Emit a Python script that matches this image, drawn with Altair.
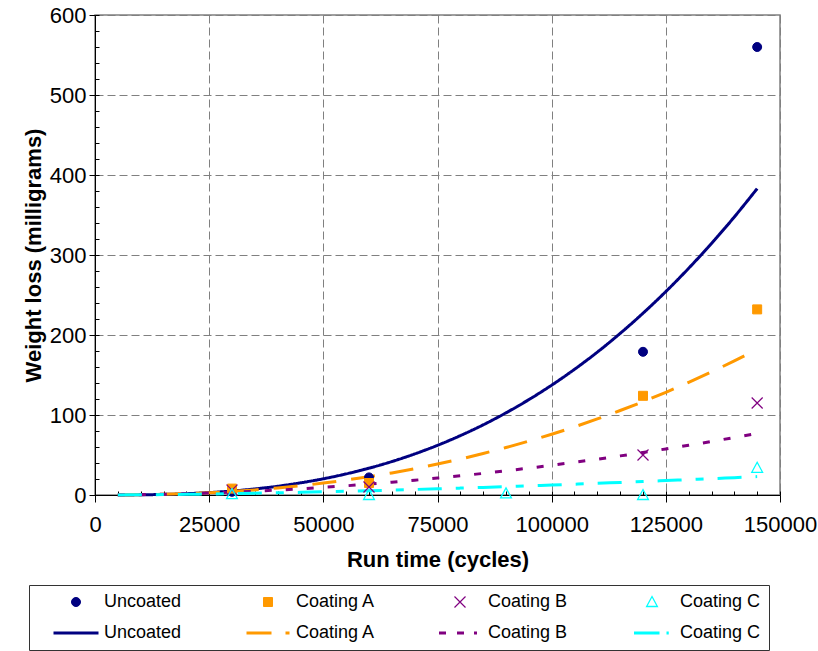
import altair as alt
import pandas as pd

# ---------------- data ----------------
series_names = ["Uncoated", "Coating A", "Coating B", "Coating C"]
series_colors = ["#000080", "#FF9900", "#800080", "#00FFFF"]

# measured values (markers)
measured_x = [30000, 60000, 120000, 145000]
uncoated_meas = [4, 22, 179, 560]
coating_a_meas = [8, 15, 124, 232]
coating_b_meas = [6, 10, 50, 115]
coating_c_x = [30000, 60000, 90000, 120000, 145000]
coating_c_meas = [1, 0, 2, 0, 34]

# trend lines
trend_x = [5000, 10000, 15000, 20000, 25000, 30000, 35000, 40000, 45000, 50000,
           55000, 60000, 65000, 70000, 75000, 80000, 85000, 90000, 95000, 100000,
           105000, 110000, 115000, 120000, 125000, 130000, 135000, 140000, 145000]
uncoated_trend = [0.04, 0.24, 0.73, 1.62, 3.0, 4.95, 7.6, 10.95, 15.2, 20.28,
                  26.4, 33.54, 41.8, 51.33, 62.1, 74.2, 87.7, 102.7, 119.2, 137.3,
                  157.1, 178.6, 202.0, 227.2, 254.3, 283.4, 314.4, 347.6, 383.0]
coating_a_trend = [0.07, 0.34, 0.88, 1.73, 2.9, 4.49, 6.4, 8.82, 11.6, 14.91,
                   18.7, 22.88, 27.6, 32.88, 38.7, 44.99, 51.9, 59.34, 67.4, 76.0,
                   85.2, 95.1, 105.6, 116.7, 128.4, 140.8, 153.9, 167.6, 182.0]
coating_b_trend = [0.10, 0.41, 0.90, 1.59, 2.46, 3.51, 4.75, 6.17, 7.77, 9.55,
                   11.5, 13.66, 16.0, 18.48, 21.2, 24.0, 27.0, 30.24, 33.6, 37.17,
                   40.9, 44.8, 48.9, 53.15, 57.6, 62.17, 66.9, 71.88, 77.0]
coating_c_trend = [0.09, 0.28, 0.54, 0.88, 1.26, 1.71, 2.20, 2.75, 3.34, 3.97,
                   4.65, 5.36, 6.12, 6.92, 7.75, 8.62, 9.53, 10.47, 11.45, 12.46,
                   13.5, 14.58, 15.7, 16.83, 18.0, 19.21, 20.4, 21.71, 23.0]

x_ticks = [0, 25000, 50000, 75000, 100000, 125000, 150000]
y_ticks = [0, 100, 200, 300, 400, 500, 600]
x_minor = list(range(0, 150001, 5000))
y_minor = list(range(0, 601, 20))

# ---------------- tables ----------------
pt_keys = ["pt " + n for n in series_names]
ln_keys = ["ln " + n for n in series_names]
all_keys = pt_keys + ln_keys

meas_sets = [
    (measured_x, uncoated_meas),
    (measured_x, coating_a_meas),
    (measured_x, coating_b_meas),
    (coating_c_x, coating_c_meas),
]
pts_rows = []
for key, (xs, ys) in zip(pt_keys, meas_sets):
    for xv, yv in zip(xs, ys):
        pts_rows.append({"x": xv, "y": yv, "key": key})
pts_df = pd.DataFrame(pts_rows)

trend_sets = [uncoated_trend, coating_a_trend, coating_b_trend, coating_c_trend]
ln_rows = []
for name, ys in zip(series_names, trend_sets):
    for xv, yv in zip(trend_x, ys):
        ln_rows.append({"x": xv, "y": yv, "series": name})
ln_df = pd.DataFrame(ln_rows)

# ---------------- styling ----------------
FONT = "Liberation Sans"
GRID = "#808080"

# symbol paths (unit = 5 px at size 100); the last four are legend line samples
shape_paths = [
    "M-0.9,0A0.9,0.9 0 1,0 0.9,0A0.9,0.9 0 1,0 -0.9,0Z",          # circle
    "M-0.9,-0.9H0.9V0.9H-0.9Z",                                    # square
    "M-1.1,-1.1L1.1,1.1M-1.1,1.1L1.1,-1.1",                        # x
    "M0,-1.1L1.08,0.9L-1.08,0.9Z",                                 # triangle
    "M-4.5,0H4.5",                                                 # solid
    "M-4.3,0H0.7M3.5,0H4.3",                                       # long dash
    "M-4.2,0H-2.8M-0.6,0H0.8M2.8,0H3.4",                           # dots
    "M-3.6,0H1.5M2.9,0H3.35",                                      # dash dot
]
fill_range = [series_colors[0], series_colors[1]] + ["transparent"] * 6
stroke_range = series_colors + series_colors
width_range = [1, 1, 1.2, 1.3, 3, 3, 3, 3]
dash_range = [[1, 0], [24, 15], [7, 14], [24, 14, 8, 14]]

NB = "\u00a0"
legend = alt.Legend(
    title=NB, titleOrient="left", titleFontSize=1, titlePadding=30,
    orient="none", legendX=-66, legendY=570,
    direction="horizontal", columns=4, gridAlign="all",
    symbolSize=100, symbolFillColor="transparent", symbolStrokeColor="black",
    labelExpr="substring(datum.label, 3) + (datum.label == 'pt Coating C' ? '" + NB + NB + "' : '')",
    labelFont=FONT, labelFontSize=18, labelColor="black",
    labelOffset=19, labelLimit=300,
    columnPadding=55, rowPadding=13, padding=8,
    strokeColor="#333333", fillColor="white",
)

x_scale = alt.Scale(domain=[0, 150000], nice=False, zero=False)
y_scale = alt.Scale(domain=[0, 600], nice=False, zero=False)

common_axis = dict(labelFont=FONT, titleFont=FONT, labelColor="black",
                   titleColor="black", domainColor="black", tickColor="black",
                   labelFlush=False)

lines = alt.Chart(ln_df).mark_line(strokeWidth=3, interpolate="monotone").encode(
    x=alt.X("x:Q", scale=x_scale, axis=alt.Axis(
        orient="bottom", values=x_ticks, format="d", title="Run time (cycles)",
        grid=True, gridColor=GRID, gridDash=[8, 4], gridWidth=1,
        tickSize=7, labelFontSize=22, labelPadding=12, titleFontSize=22,
        titleFontWeight="bold", titlePadding=14, **common_axis)),
    y=alt.Y("y:Q", scale=y_scale, axis=alt.Axis(
        orient="left", values=y_ticks, title="Weight loss (milligrams)",
        grid=True, gridColor=GRID, gridDash=[8, 4], gridWidth=1,
        tickSize=6, labelFontSize=22, labelPadding=3, titleFontSize=22,
        titleFontWeight="bold", titlePadding=4, **common_axis)),
    color=alt.Color("series:N", scale=alt.Scale(domain=series_names, range=series_colors), legend=None),
    strokeDash=alt.StrokeDash("series:N", scale=alt.Scale(domain=series_names, range=dash_range), legend=None),
)

points = alt.Chart(pts_df).mark_point(size=100, opacity=1).encode(
    x=alt.X("x:Q", scale=x_scale, axis=alt.Axis(
        orient="top", offset=-480, values=x_minor, labels=False, domain=False,
        grid=False, tickSize=4, tickColor="black", title=None)),
    y=alt.Y("y:Q", scale=y_scale, axis=alt.Axis(
        orient="right", offset=-685, values=y_minor, labels=False, domain=False,
        grid=False, tickSize=4, tickColor="black", title=None)),
    shape=alt.Shape("key:N", scale=alt.Scale(domain=all_keys, range=shape_paths), legend=legend),
    fill=alt.Fill("key:N", scale=alt.Scale(domain=all_keys, range=fill_range), legend=legend),
    stroke=alt.Stroke("key:N", scale=alt.Scale(domain=all_keys, range=stroke_range), legend=legend),
    strokeWidth=alt.StrokeWidth("key:N", scale=alt.Scale(type="ordinal", domain=all_keys, range=width_range), legend=legend),
)

chart = alt.layer(lines, points).resolve_axis(
    x="independent", y="independent"
).properties(
    width=685, height=480,
    autosize=alt.AutoSizeParams(type="none"),
    padding={"left": 95, "top": 15, "right": 38, "bottom": 156},
    background="white",
).configure_view(stroke=GRID, strokeWidth=1.5)

chart.save("out.html", embed_options={"renderer": "svg", "actions": False})
